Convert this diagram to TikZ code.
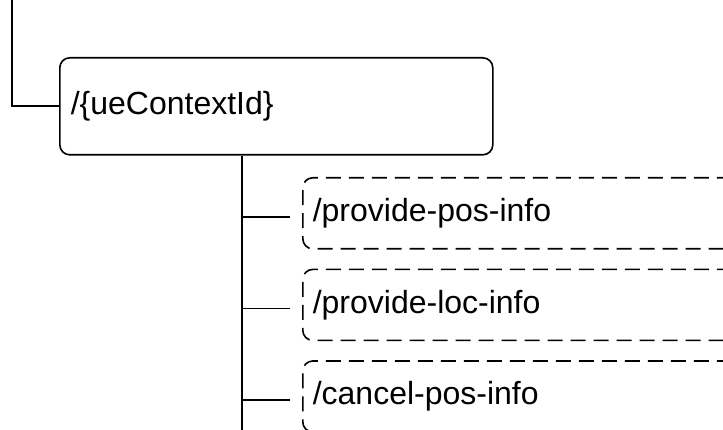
\documentclass[tikz,border=0pt]{standalone}
\usepackage{fontspec}
\setmainfont{Liberation Sans}
\usetikzlibrary{positioning}

\begin{document}
\begin{tikzpicture}[
  x=1pt, y=-1pt,
  font=\fontsize{32}{38}\selectfont,
  node distance=19pt,
  res/.style={rectangle, rounded corners=10pt, draw, line width=1.6pt,
              minimum height=71pt, text width=580pt, inner xsep=10pt, align=left},
  ctxbox/.style={res, minimum height=97pt, text width=411pt, inner xsep=11pt},
  subres/.style={res, dash pattern=on 15pt off 8pt},
  wire/.style={line width=1.6pt},
]
\useasboundingbox (0,0) rectangle (723,430);
\clip (0,0) rectangle (723,430);

% parent resource
\coordinate (up) at (12,-2);
\node[ctxbox, anchor=north west] (ctx) at (59,57) {/\{ueContextId\}};
\draw[wire] (up) |- (ctx.west);

% custom operations
\node[subres, anchor=north west] (posinfo) at (302,177) {/provide-pos-info};
\node[subres, below=of posinfo] (locinfo) {/provide-loc-info};
\node[subres, below=of locinfo] (cancelinfo) {/cancel-pos-info};

% tree lines
\coordinate (trunkend) at (242,432);
\draw[wire] (ctx.south -| trunkend) -- (trunkend);
\foreach \n in {posinfo,locinfo,cancelinfo}
  \draw[wire] ([yshift=-3.5pt]\n.west -| trunkend) -- ([xshift=-12pt,yshift=-3.5pt]\n.west);

\end{tikzpicture}
\end{document}
